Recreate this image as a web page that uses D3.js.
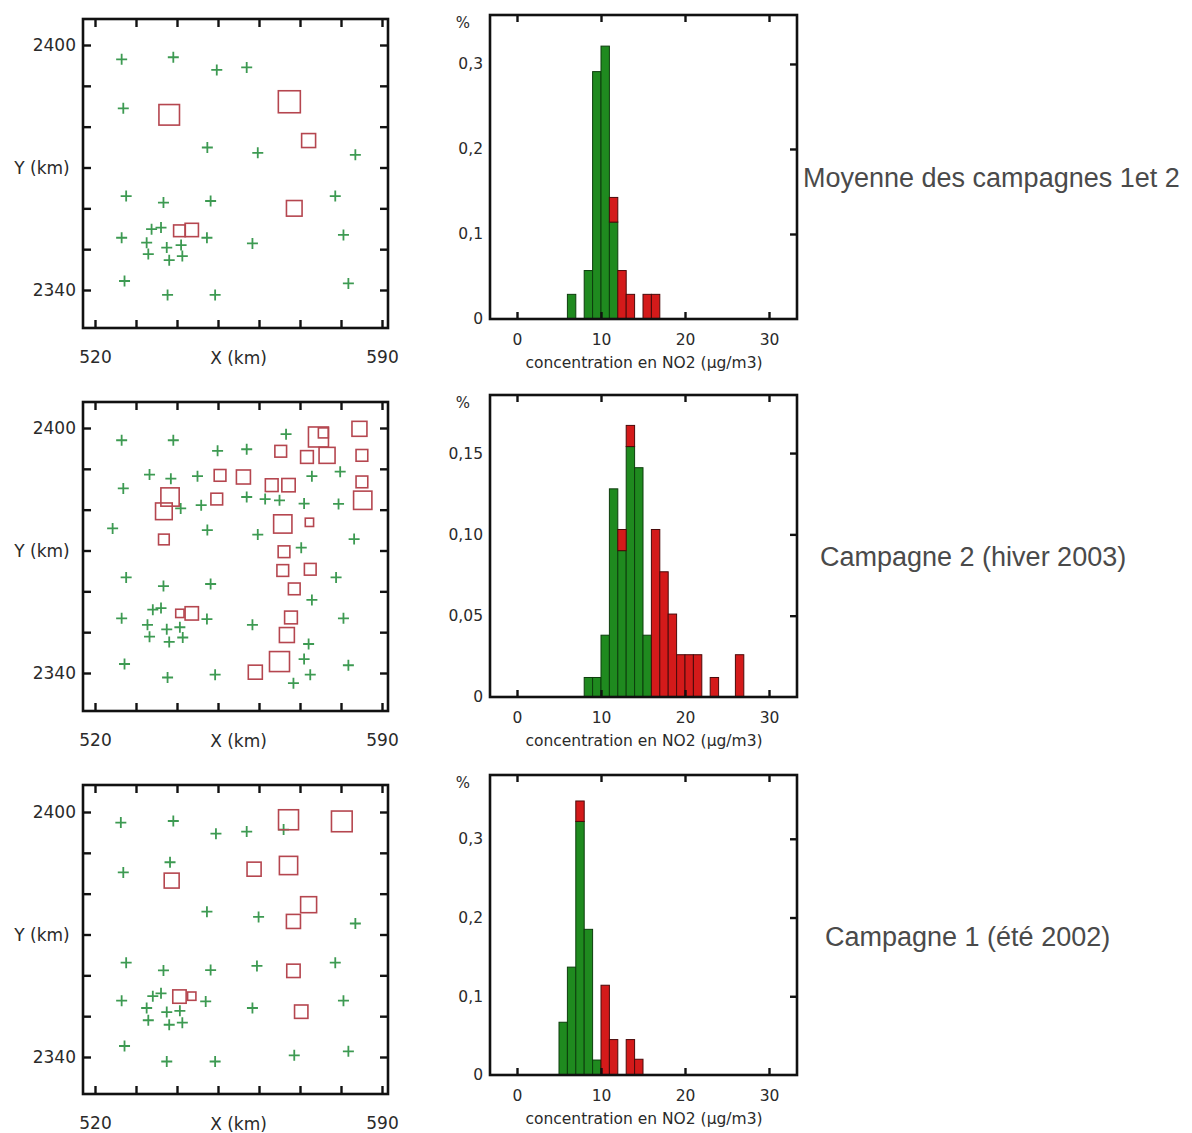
<!DOCTYPE html>
<html>
<head>
<meta charset="utf-8">
<script src="https://cdn.jsdelivr.net/npm/d3@7"></script>
<style>
body { margin: 0; background: #fff; }
svg { display: block; }
</style>
</head>
<body>
<svg id="chart" width="1192" height="1133"></svg>
<script>
// ---------- data ----------
var mapXTicks = [520, 530, 540, 550, 560, 570, 580, 590];
var mapYTicks = [2340, 2350, 2360, 2370, 2380, 2390, 2400];
var histXTicks = [0, 10, 20, 30];

var panelTitles = ["Moyenne des campagnes 1et 2", "Campagne 2 (hiver 2003)", "Campagne 1 (été 2002)"];

// stations below the threshold: [X km, Y km]
var map1Crosses = [[526.5,2396.5],[539.1,2397.0],[549.7,2393.9],[557.0,2394.5],[526.9,2384.5],[547.4,2374.9],
  [559.7,2373.6],[583.5,2373.1],[527.6,2363.0],[536.7,2361.4],[548.2,2361.8],[578.6,2363.0],[533.8,2354.9],
  [536.1,2355.3],[526.5,2352.8],[547.3,2352.8],[532.6,2351.6],[537.5,2350.4],[541.0,2351.0],[558.4,2351.4],
  [580.6,2353.5],[533.0,2348.8],[538.1,2347.3],[541.3,2348.3],[527.2,2342.2],[581.8,2341.6],[537.7,2338.8],
  [549.3,2338.8]];
// stations above: [X km, Y km, NO2 µg/m3]
var map1Squares = [[538.1,2382.9,15.8],[567.4,2386.1,16.5],[572.1,2376.6,12.6],[568.6,2360.0,13.4],
  [540.6,2354.5,11.5],[543.6,2354.7,12.3]];

var map2Crosses = [[526.5,2397.0],[539.1,2397.0],[549.9,2394.4],[557.0,2394.8],[566.6,2398.5],[533.3,2388.6],
  [538.5,2387.6],[545.0,2388.2],[526.9,2385.2],[540.9,2380.3],[545.9,2381.1],[557.0,2383.1],[561.5,2382.6],
  [565.0,2382.3],[572.9,2388.2],[579.8,2389.3],[571.0,2381.5],[579.4,2381.4],[524.3,2375.4],[547.4,2375.0],
  [559.7,2373.9],[583.2,2372.8],[570.3,2370.7],[527.6,2363.4],[536.7,2361.3],[548.2,2361.8],[578.8,2363.4],
  [572.9,2357.9],[534.1,2355.5],[536.1,2355.9],[526.5,2353.4],[547.3,2353.2],[532.8,2351.8],[537.5,2350.7],
  [540.7,2351.2],[558.4,2351.8],[580.6,2353.4],[533.3,2348.9],[538.1,2347.6],[541.4,2348.7],[572.1,2347.1],
  [571.0,2343.4],[527.2,2342.2],[581.8,2341.9],[537.7,2338.9],[549.3,2339.6],[572.5,2339.6],[568.4,2337.5]];
var map2Squares = [[574.5,2397.8,26.5],[575.7,2398.8,14.8],[584.5,2399.8,20.6],[565.3,2394.3,16.8],
  [571.7,2392.9,18.0],[576.6,2393.3,21.8],[585.1,2393.3,16.8],[550.5,2388.4,16.8],[556.2,2388.0,19.5],
  [563.1,2386.0,18.0],[567.2,2386.0,18.7],[585.1,2386.8,16.8],[538.3,2383.1,24.5],[536.8,2379.6,22.6],
  [549.7,2382.6,16.8],[585.3,2382.3,24.5],[565.8,2376.5,24.5],[572.3,2376.9,12.8],[536.8,2372.7,15.6],
  [566.1,2369.7,16.8],[565.8,2365.1,16.8],[572.5,2365.4,16.8],[568.6,2360.6,16.8],[540.7,2354.6,12.8],
  [543.6,2354.6,18.7],[567.8,2353.6,18.0],[566.8,2349.3,20.6],[565.0,2342.8,26.5],[559.1,2340.2,19.5]];

var map3Crosses = [[526.3,2397.4],[539.1,2397.8],[549.5,2394.7],[557.0,2395.2],[566.0,2395.7],[538.3,2387.7],
  [526.9,2385.2],[547.3,2375.6],[559.9,2374.3],[583.5,2372.7],[527.6,2363.1],[536.7,2361.2],[548.2,2361.3],
  [559.5,2362.3],[578.6,2363.1],[534.1,2354.9],[536.1,2355.6],[526.5,2353.8],[547.0,2353.6],[532.6,2352.0],
  [537.5,2351.0],[540.7,2351.3],[558.4,2352.0],[580.6,2353.8],[533.0,2349.0],[538.1,2347.9],[541.3,2348.4],
  [527.2,2342.7],[568.6,2340.4],[581.8,2341.4],[537.5,2338.9],[549.3,2338.9]];
var map3Squares = [[567.2,2398.1,14.2],[580.2,2397.7,14.6],[558.8,2386.0,10.8],[567.2,2386.9,13.2],
  [538.7,2383.2,11.3],[572.1,2377.3,11.9],[568.4,2373.2,10.8],[568.4,2361.1,10.4],[540.6,2354.8,10.4],
  [543.6,2354.9,7.5],[570.3,2351.1,10.4]];

// histograms: bin start (µg/m3, width 1), green share, red share (stacked)
var hist1Bins  = [6, 8, 9, 10, 11, 12, 13, 15, 16];
var hist1Green = [0.029, 0.057, 0.291, 0.321, 0.114, 0, 0, 0, 0];
var hist1Red   = [0, 0, 0, 0, 0.029, 0.057, 0.029, 0.029, 0.029];

var hist2Bins  = [8, 9, 10, 11, 12, 13, 14, 15, 16, 17, 18, 19, 20, 21, 23, 26];
var hist2Green = [0.012, 0.012, 0.038, 0.128, 0.090, 0.154, 0.141, 0.038, 0, 0, 0, 0, 0, 0, 0, 0];
var hist2Red   = [0, 0, 0, 0, 0.013, 0.013, 0, 0, 0.103, 0.077, 0.051, 0.026, 0.026, 0.026, 0.012, 0.026];

var hist3Bins  = [5, 6, 7, 8, 9, 10, 11, 13, 14];
var hist3Green = [0.067, 0.137, 0.322, 0.185, 0.019, 0, 0, 0, 0];
var hist3Red   = [0, 0, 0.026, 0, 0, 0.114, 0.045, 0.045, 0.020];

var hist1YTicks = [0, 0.1, 0.2, 0.3];
var hist1YLabels = ["0", "0,1", "0,2", "0,3"];
var hist2YTicks = [0, 0.05, 0.10, 0.15];
var hist2YLabels = ["0", "0,05", "0,10", "0,15"];
var hist3YTicks = [0, 0.1, 0.2, 0.3];
var hist3YLabels = ["0", "0,1", "0,2", "0,3"];

// ---------- layout ----------
var mapLeft = 83, mapRight = 388;
var histLeft = 490, histRight = 797;
var crossColor = "#3d9a52", squareColor = "#b5464f";
var greenFill = "#1f8a1f", redFill = "#d41a1a";
var tickFont = "'DejaVu Sans', sans-serif";

var panels = [
  { title: panelTitles[0], titleX: 803, titleY: 187,
    mapTop: 19, mapY2400: 45, crosses: map1Crosses, squares: map1Squares, side: [11.7, 22],
    histTop: 15, histBottom: 319, yMax: 0.3576, bins: hist1Bins, green: hist1Green, red: hist1Red,
    yTicks: hist1YTicks, yLabels: hist1YLabels },
  { title: panelTitles[1], titleX: 820, titleY: 566,
    mapTop: 402, mapY2400: 428, crosses: map2Crosses, squares: map2Squares, side: [8.3, 20],
    histTop: 395, histBottom: 697, yMax: 0.1857, bins: hist2Bins, green: hist2Green, red: hist2Red,
    yTicks: hist2YTicks, yLabels: hist2YLabels },
  { title: panelTitles[2], titleX: 825, titleY: 946,
    mapTop: 785, mapY2400: 812, crosses: map3Crosses, squares: map3Squares, side: [8.3, 20.7],
    histTop: 775, histBottom: 1075, yMax: 0.381, bins: hist3Bins, green: hist3Green, red: hist3Red,
    yTicks: hist3YTicks, yLabels: hist3YLabels }
];

var svg = d3.select("#chart");

// strip d3 axis defaults, make ticks look like the scanned plot
var styleAxis = function(g, size) {
  g.attr("font-family", tickFont).attr("font-size", size);
  g.select(".domain").remove();
  g.selectAll(".tick line").attr("stroke", "#111").attr("stroke-width", 2.4);
  g.selectAll(".tick text").attr("fill", "#2a2a2a");
};

panels.forEach(function(p) {

  // ---- map ----
  var mapBottom = p.mapTop + 309;
  var x = d3.scaleLinear().domain([520, 590]).range([95, 382]);
  var y = d3.scaleLinear().domain([2340, 2400]).range([p.mapY2400 + 245, p.mapY2400]);
  var side = d3.scaleLinear().domain(d3.extent(p.squares, function(d) { return d[2]; })).range(p.side);

  var m = svg.append("g");

  m.append("g").attr("transform", "translate(0," + mapBottom + ")")
    .call(d3.axisBottom(x).tickValues(mapXTicks).tickSizeInner(-8).tickSizeOuter(0).tickPadding(23)
      .tickFormat(function(d) { return (d === 520 || d === 590) ? d : ""; }))
    .call(styleAxis, 17);
  m.append("g").attr("transform", "translate(0," + p.mapTop + ")")
    .call(d3.axisTop(x).tickValues(mapXTicks).tickSizeInner(-8).tickSizeOuter(0).tickFormat(""))
    .call(styleAxis, 17);
  m.append("g").attr("transform", "translate(" + mapLeft + ",0)")
    .call(d3.axisLeft(y).tickValues(mapYTicks).tickSizeInner(-8).tickSizeOuter(0).tickPadding(7)
      .tickFormat(function(d) { return (d === 2340 || d === 2400) ? d : ""; }))
    .call(styleAxis, 17);
  m.append("g").attr("transform", "translate(" + mapRight + ",0)")
    .call(d3.axisRight(y).tickValues(mapYTicks).tickSizeInner(-8).tickSizeOuter(0).tickFormat(""))
    .call(styleAxis, 17);

  m.append("rect")
    .attr("x", mapLeft).attr("y", p.mapTop)
    .attr("width", mapRight - mapLeft).attr("height", mapBottom - p.mapTop)
    .attr("fill", "none").attr("stroke", "#111").attr("stroke-width", 2.6);

  m.append("text").attr("x", x(555)).attr("y", mapBottom + 36)
    .attr("text-anchor", "middle").attr("font-family", tickFont).attr("font-size", 17).attr("fill", "#2a2a2a")
    .text("X (km)");
  m.append("text").attr("x", 42).attr("y", y(2370) + 6)
    .attr("text-anchor", "middle").attr("font-family", tickFont).attr("font-size", 17).attr("fill", "#2a2a2a")
    .text("Y (km)");

  // green crosses
  m.append("g").selectAll("path")
    .data(p.crosses)
    .enter()
    .append("path")
    .attr("d", function(d) {
      var cx = x(d[0]), cy = y(d[1]), r = 5.5;
      return "M" + (cx - r) + "," + cy + "H" + (cx + r) + "M" + cx + "," + (cy - r) + "V" + (cy + r);
    })
    .attr("stroke", crossColor).attr("stroke-width", 1.8).attr("fill", "none");

  // red squares, side grows with concentration
  m.append("g").selectAll("rect")
    .data(p.squares)
    .enter()
    .append("rect")
    .attr("x", function(d) { return x(d[0]) - side(d[2]) / 2; })
    .attr("y", function(d) { return y(d[1]) - side(d[2]) / 2; })
    .attr("width", function(d) { return side(d[2]); })
    .attr("height", function(d) { return side(d[2]); })
    .attr("fill", "none").attr("stroke", squareColor).attr("stroke-width", 1.6);

  // ---- histogram ----
  var hx = d3.scaleLinear().domain([0, 30]).range([517, 769]);
  var hy = d3.scaleLinear().domain([0, p.yMax]).range([p.histBottom, p.histTop]);
  var h = svg.append("g");

  var bars = p.bins.map(function(b, i) { return { b: b, g: p.green[i], r: p.red[i] }; });

  h.append("g").selectAll("rect")
    .data(bars.filter(function(d) { return d.g > 0; }))
    .enter()
    .append("rect")
    .attr("x", function(d) { return hx(d.b); })
    .attr("width", function(d) { return hx(d.b + 1) - hx(d.b); })
    .attr("y", function(d) { return hy(d.g); })
    .attr("height", function(d) { return hy(0) - hy(d.g); })
    .attr("fill", greenFill).attr("stroke", "#0d3d0d").attr("stroke-width", 1);

  h.append("g").selectAll("rect")
    .data(bars.filter(function(d) { return d.r > 0; }))
    .enter()
    .append("rect")
    .attr("x", function(d) { return hx(d.b); })
    .attr("width", function(d) { return hx(d.b + 1) - hx(d.b); })
    .attr("y", function(d) { return hy(d.g + d.r); })
    .attr("height", function(d) { return hy(d.g) - hy(d.g + d.r); })
    .attr("fill", redFill).attr("stroke", "#4a0a0a").attr("stroke-width", 1);

  h.append("g").attr("transform", "translate(0," + p.histBottom + ")")
    .call(d3.axisBottom(hx).tickValues(histXTicks).tickSizeInner(-7).tickSizeOuter(0).tickPadding(15))
    .call(styleAxis, 15.5);
  h.append("g").attr("transform", "translate(0," + p.histTop + ")")
    .call(d3.axisTop(hx).tickValues(histXTicks).tickSizeInner(-7).tickSizeOuter(0).tickFormat(""))
    .call(styleAxis, 15.5);
  h.append("g").attr("transform", "translate(" + histLeft + ",0)")
    .call(d3.axisLeft(hy).tickValues(p.yTicks).tickSize(0).tickPadding(7)
      .tickFormat(function(d, i) { return p.yLabels[i]; }))
    .call(styleAxis, 15.5);
  h.append("g").attr("transform", "translate(" + histRight + ",0)")
    .call(d3.axisRight(hy).tickValues(p.yTicks.slice(1)).tickSizeInner(-7).tickSizeOuter(0).tickFormat(""))
    .call(styleAxis, 15.5);

  h.append("rect")
    .attr("x", histLeft).attr("y", p.histTop)
    .attr("width", histRight - histLeft).attr("height", p.histBottom - p.histTop)
    .attr("fill", "none").attr("stroke", "#111").attr("stroke-width", 2.6);

  h.append("text").attr("x", 463).attr("y", p.histTop + 13)
    .attr("text-anchor", "middle").attr("font-family", tickFont).attr("font-size", 15).attr("fill", "#2a2a2a")
    .text("%");
  h.append("text").attr("x", 644).attr("y", p.histBottom + 49)
    .attr("text-anchor", "middle").attr("font-family", tickFont).attr("font-size", 15.5).attr("fill", "#2a2a2a")
    .text("concentration en NO2 (µg/m3)");

  // panel title on the right
  svg.append("text").attr("x", p.titleX).attr("y", p.titleY)
    .attr("font-family", "'Liberation Sans', Arial, sans-serif").attr("font-size", 27).attr("fill", "#4a4a4a")
    .text(p.title);
});
</script>
</body>
</html>
